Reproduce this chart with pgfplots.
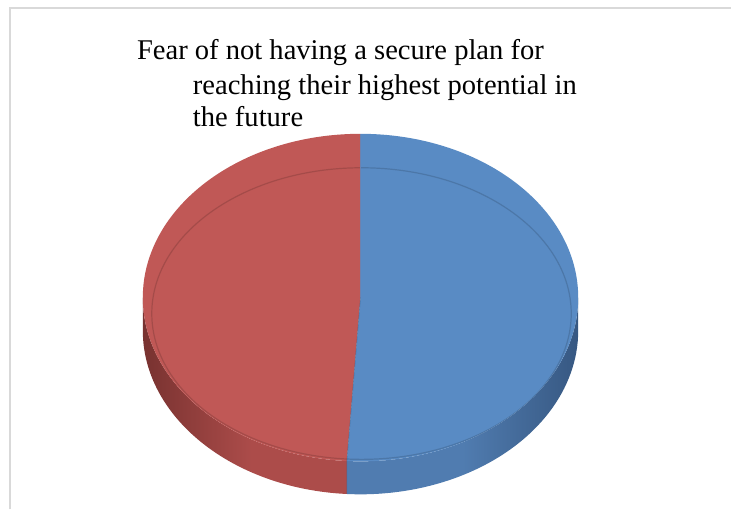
\documentclass[border=0pt]{standalone}
\usepackage{pgfplots}
\pgfplotsset{compat=1.18}
\usepackage{pgfplotstable}
\usepackage{fontspec}
\setmainfont{Liberation Serif}
\definecolor{pieblue}{RGB}{89,139,196}
\definecolor{piered}{RGB}{192,88,86}
\definecolor{blueside}{RGB}{80,124,176}
\definecolor{bluesidedark}{RGB}{55,88,130}
\definecolor{redside}{RGB}{172,76,74}
\definecolor{redsidedark}{RGB}{120,50,48}
\definecolor{framegray}{RGB}{217,217,217}
% share of each slice (percent)
\pgfplotstableread{
label value
Blue 51
Red 49
}\piedata
\begin{document}
\begin{tikzpicture}
\pgfplotstablegetelem{0}{value}\of\piedata
\let\vblue\pgfplotsretval
\pgfplotstablegetelem{1}{value}\of\piedata
\let\vred\pgfplotsretval
\pgfmathsetmacro{\total}{\vblue+\vred}
\pgfmathsetmacro{\frac}{\vblue/\total}
\pgfmathsetmacro{\splitang}{90-360*\frac}% blue runs clockwise from 90
\pgfmathsetmacro{\splitpos}{\splitang+360}
\begin{axis}[
  x=1pt, y=1pt,
  xmin=0, xmax=732, ymin=0, ymax=510,
  hide axis, clip=false,
]
\path[fill=white] (axis cs:0,0) rectangle (axis cs:732,510);
\draw[framegray, line width=2pt] (axis cs:10,0) -- (axis cs:10,502) -- (axis cs:732,502);
% title
\node[anchor=base west, font=\fontsize{28.6}{33}\selectfont, inner sep=0pt] at (axis cs:137,450) {Fear of not having a secure plan for};
\node[anchor=base west, font=\fontsize{28.6}{33}\selectfont, inner sep=0pt] at (axis cs:193,415) {reaching their highest potential in};
\node[anchor=base west, font=\fontsize{28.6}{33}\selectfont, inner sep=0pt] at (axis cs:193,383) {the future};
% pie geometry: centre (361,212), radii 218 x 164, depth 33
\def\cx{361}\def\cy{212}\def\rx{218pt}\def\ry{164pt}
% sides
\shade[left color=redsidedark, right color=redside, middle color=redside]
  (axis cs:\cx,\cy) ++(180:218pt and 164pt)
  arc[start angle=180, end angle=\splitpos, x radius=\rx, y radius=\ry]
  -- ++(0,-33pt)
  arc[start angle=\splitpos, end angle=180, x radius=\rx, y radius=\ry] -- cycle;
\shade[left color=blueside, right color=bluesidedark, middle color=blueside]
  (axis cs:\cx,\cy) ++(\splitpos:218pt and 164pt)
  arc[start angle=\splitpos, end angle=360, x radius=\rx, y radius=\ry]
  -- ++(0,-33pt)
  arc[start angle=360, end angle=\splitpos, x radius=\rx, y radius=\ry] -- cycle;
% top faces
\fill[piered] (axis cs:\cx,\cy) -- ++(90:218pt and 164pt)
  arc[start angle=90, end angle=\splitpos, x radius=\rx, y radius=\ry] -- cycle;
\fill[pieblue] (axis cs:\cx,\cy) -- ++(90:218pt and 164pt)
  arc[start angle=90, end angle=\splitang, x radius=\rx, y radius=\ry] -- cycle;
% bevel line
\begin{scope}
\clip (axis cs:\cx,\cy) ellipse[x radius=\rx, y radius=\ry];
\draw[black, opacity=0.14, line width=1.2pt] (axis cs:362,196) ellipse[x radius=210pt, y radius=146pt];
\end{scope}
\draw[pieblue!80!piered, line width=0.8pt] (axis cs:\cx,\cy) -- ++(0,164pt);
\draw[bluesidedark, opacity=0.5, line width=0.6pt] (axis cs:\cx,\cy) -- ++(\splitang:218pt and 164pt) -- ++(0,-33pt);
\end{axis}
\end{tikzpicture}
\end{document}
